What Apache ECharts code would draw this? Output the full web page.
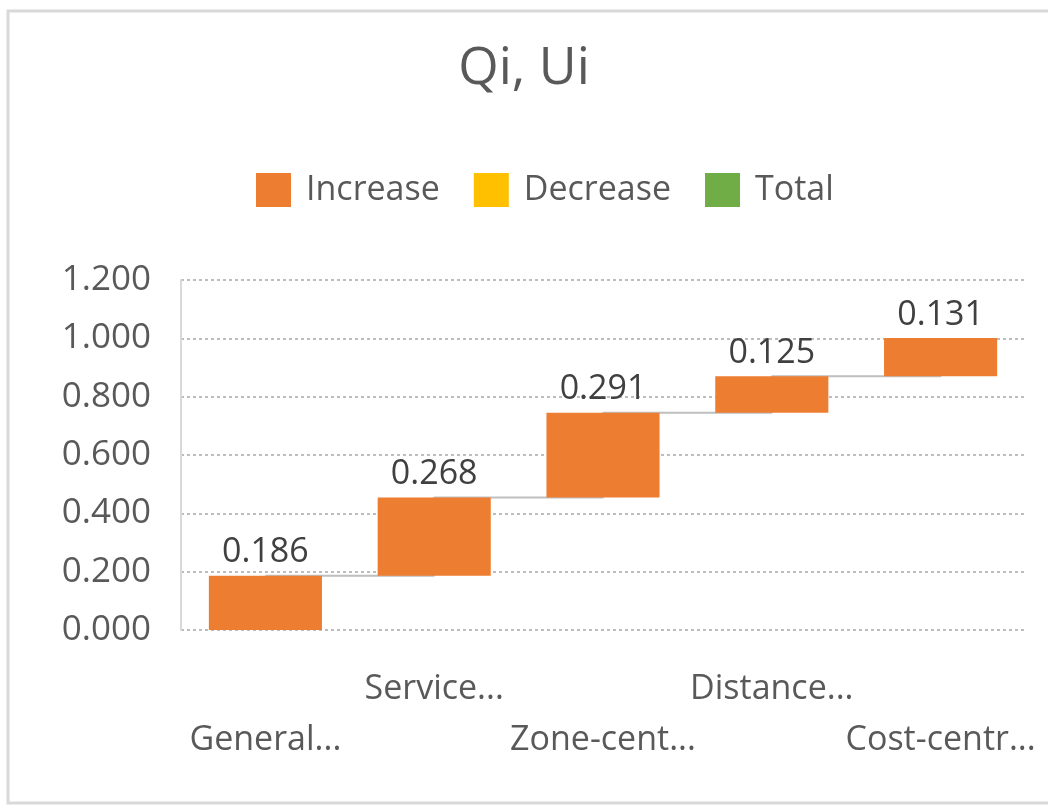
<!DOCTYPE html>
<html>
<head>
<meta charset="utf-8">
<script src="https://cdn.jsdelivr.net/npm/echarts@6/dist/echarts.min.js"></script>
<style>
  html, body { margin: 0; padding: 0; background: #fff; }
  #chart { width: 1048px; height: 806px; }
</style>
</head>
<body>
<div id="chart"></div>
<script>
var categories = ['General...', 'Service...', 'Zone-cent...', 'Distance...', 'Cost-centr...'];
var increase = [0.186, 0.268, 0.291, 0.125, 0.131];
var decrease = [];
var total = [];

// waterfall base: running sum of the previous increases
var base = [];
var running = [];
var sum = 0;
for (var i = 0; i < increase.length; i++) {
    base.push(sum);
    sum += increase[i];
    running.push(sum);
}

var textColor = '#595959';
var font = 'Open Sans';

var myChart = echarts.init(document.getElementById('chart'));
option = {
    backgroundColor: '#ffffff',
    animation: false,
    title: {
        text: 'Qi, Ui',
        left: 'center',
        top: 38,
        textStyle: {
            fontFamily: font,
            fontSize: 52,
            fontWeight: 'normal',
            color: textColor
        }
    },
    legend: {
        top: 168,
        left: 251,
        icon: 'rect',
        itemWidth: 35,
        itemHeight: 34,
        itemGap: 34,
        data: ['Increase', 'Decrease', 'Total'],
        textStyle: {
            fontFamily: font,
            fontSize: 34,
            color: textColor,
            padding: [0, 0, 0, 10]
        }
    },
    grid: {
        left: 181,
        right: 23,
        top: 280,
        bottom: 176
    },
    xAxis: {
        type: 'category',
        data: categories,
        axisLine: {show: false},
        axisTick: {show: false},
        axisLabel: {
            interval: 0,
            margin: 34,
            fontFamily: font,
            fontSize: 34,
            color: textColor,
            lineHeight: 51,
            formatter: function (value, idx) {
                return idx % 2 === 0 ? '\n' + value : value;
            }
        }
    },
    yAxis: {
        type: 'value',
        min: 0,
        max: 1.2,
        interval: 0.2,
        axisLine: {show: true, lineStyle: {color: '#d9d9d9', width: 2}},
        axisTick: {show: false},
        axisLabel: {
            margin: 30,
            fontFamily: font,
            fontSize: 35,
            color: textColor,
            formatter: function (v) { return v.toFixed(3); }
        },
        splitLine: {
            lineStyle: {color: '#bdbdbd', width: 2, type: [3, 3]}
        }
    },
    series: [
        {
            name: 'connector',
            type: 'line',
            step: 'end',
            data: running,
            symbol: 'none',
            lineStyle: {color: '#bfbfbf', width: 2},
            z: 1,
            silent: true
        },
        {
            name: 'base',
            type: 'bar',
            stack: 'wf',
            data: base,
            barWidth: '67%',
            itemStyle: {color: 'transparent'},
            silent: true,
            z: 3
        },
        {
            name: 'Increase',
            type: 'bar',
            stack: 'wf',
            data: increase,
            itemStyle: {color: '#ED7D31'},
            z: 3,
            label: {
                show: true,
                position: 'top',
                distance: 6,
                fontFamily: font,
                fontSize: 34,
                color: '#404040',
                formatter: function (p) { return p.value.toFixed(3); }
            }
        },
        {
            name: 'Decrease',
            type: 'bar',
            stack: 'wf',
            data: decrease,
            itemStyle: {color: '#FFC000'}
        },
        {
            name: 'Total',
            type: 'bar',
            stack: 'wf',
            data: total,
            itemStyle: {color: '#70AD47'}
        }
    ],
    graphic: [
        {
            type: 'rect',
            shape: {x: 8, y: 11, width: 1100, height: 792},
            style: {fill: 'none', stroke: '#d9d9d9', lineWidth: 3},
            silent: true
        }
    ]
};
myChart.setOption(option);
</script>
</body>
</html>
